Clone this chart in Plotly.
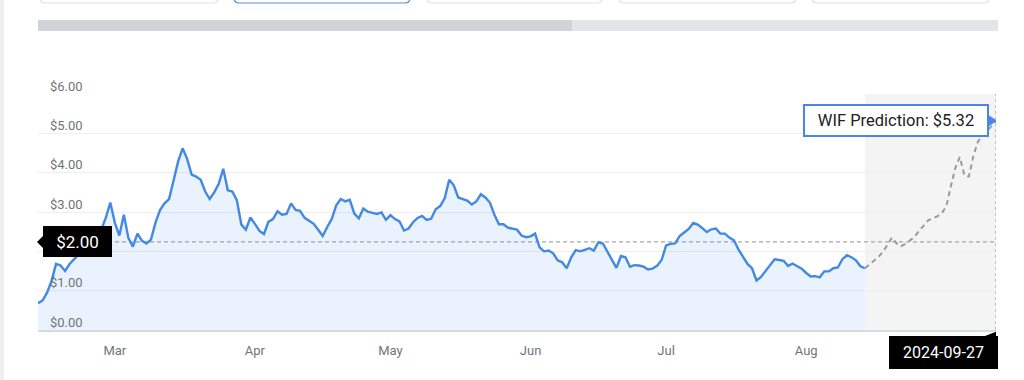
import plotly.graph_objects as go
import pandas as pd

# ---------------- data ----------------
start_date = "2024-02-28"
hist_values = [
    0.68, 0.75, 0.95, 1.25, 1.68, 1.64, 1.50, 1.68, 1.80, 1.92,
    2.02, 2.15, 2.26, 2.40, 2.55, 2.85, 3.24, 2.73, 2.40, 2.93,
    2.34, 2.12, 2.45, 2.27, 2.20, 2.30, 2.73, 3.05, 3.22, 3.33,
    3.80, 4.28, 4.62, 4.35, 3.95, 3.90, 3.82, 3.52, 3.33, 3.50,
    3.72, 4.10, 3.55, 3.52, 3.30, 2.68, 2.55, 2.86, 2.70, 2.52,
    2.44, 2.75, 2.82, 3.02, 2.93, 2.95, 3.22, 3.05, 3.03, 2.85,
    2.78, 2.70, 2.55, 2.39, 2.62, 2.82, 3.17, 3.33, 3.27, 3.31,
    2.96, 2.84, 3.09, 3.01, 2.98, 2.95, 2.99, 2.80, 2.92, 2.82,
    2.76, 2.53, 2.58, 2.74, 2.85, 2.90, 2.80, 2.83, 3.07, 3.15,
    3.35, 3.82, 3.68, 3.37, 3.33, 3.29, 3.19, 3.27, 3.45, 3.37,
    3.24, 2.93, 2.69, 2.69, 2.60, 2.58, 2.55, 2.40, 2.36, 2.38,
    2.45, 2.10, 2.00, 2.02, 1.95, 1.77, 1.72, 1.57, 1.85, 2.03,
    2.00, 2.04, 2.08, 2.02, 2.23, 2.20, 2.00, 1.77, 1.58, 1.88,
    1.85, 1.61, 1.65, 1.64, 1.61, 1.54, 1.56, 1.63, 1.78, 2.15,
    2.19, 2.20, 2.39, 2.48, 2.57, 2.72, 2.68, 2.59, 2.49, 2.56,
    2.58, 2.45, 2.45, 2.35, 2.28, 2.05, 1.87, 1.68, 1.57, 1.26,
    1.35, 1.50, 1.64, 1.80, 1.78, 1.76, 1.63, 1.69, 1.62, 1.56,
    1.45, 1.36, 1.37, 1.34, 1.49, 1.49, 1.57, 1.59, 1.80, 1.90,
    1.85, 1.77, 1.62, 1.57,
]
pred_values = [
    1.57, 1.66, 1.76, 1.86, 1.99, 2.18, 2.35, 2.20, 2.13, 2.19,
    2.27, 2.37, 2.52, 2.67, 2.79, 2.84, 2.89, 2.97, 3.14, 3.65,
    4.12, 4.40, 3.93, 3.90, 4.43, 4.79, 4.92, 5.05, 5.18, 5.32,
]
current_price = 2.24
current_label = "$2.00"
pred_label = "WIF Prediction: $5.32"
pred_date_label = "2024-09-27"
month_ticks = ["2024-03-16", "2024-04-16", "2024-05-16", "2024-06-16", "2024-07-16", "2024-08-16"]
month_labels = ["Mar", "Apr", "May", "Jun", "Jul", "Aug"]
y_ticks = [0, 1, 2, 3, 4, 5, 6]
# the $2.00 axis label is hidden behind the black current-price badge
y_tick_labels = ["$0.00", "$1.00", "", "$3.00", "$4.00", "$5.00", "$6.00"]

hist_dates = pd.date_range(start_date, periods=len(hist_values), freq="D")
pred_dates = pd.date_range(hist_dates[-1], periods=len(pred_values), freq="D")

# ---------------- layout helpers ----------------
W, H = 1024, 380
L, R, T, B = 38, 28, 94, 50
PW, PH = W - L - R, H - T - B


def pxx(x):
    return (x - L) / PW


def pxy(y):
    return (H - B - y) / PH


FONT = "Roboto, Arial, sans-serif"
BLUE = "#4389e3"

fig = go.Figure()

fig.add_trace(go.Scatter(
    x=hist_dates, y=hist_values, mode="lines",
    line=dict(color=BLUE, width=2.4),
    fill="tozeroy", fillcolor="rgba(66,133,244,0.11)",
    hoverinfo="skip", showlegend=False,
))
fig.add_trace(go.Scatter(
    x=pred_dates, y=pred_values, mode="lines",
    line=dict(color="#9a9a9a", width=2, dash="5px,4px"),
    hoverinfo="skip", showlegend=False,
))

shapes = []
# page left strip
shapes.append(dict(type="rect", xref="paper", yref="paper",
                   x0=pxx(0), x1=pxx(4), y0=pxy(H), y1=pxy(0),
                   fillcolor="#f0f0f0", line=dict(width=0), layer="below"))
# scrollbar
shapes.append(dict(type="rect", xref="paper", yref="paper",
                   x0=pxx(38), x1=pxx(998), y0=pxy(31), y1=pxy(20),
                   fillcolor="#e3e4e9", line=dict(width=0), layer="below"))
shapes.append(dict(type="rect", xref="paper", yref="paper",
                   x0=pxx(38), x1=pxx(572), y0=pxy(31), y1=pxy(20),
                   fillcolor="#d2d3d8", line=dict(width=0), layer="below"))
# tabs (only bottom edges visible)
tabs = [(40, 218), (234, 410), (427, 602), (619, 796), (812, 989)]
for i, (a, b) in enumerate(tabs):
    r = 5
    top, bot = -10, 3
    path = (f"M {pxx(a)},{pxy(top)} L {pxx(a)},{pxy(bot - r)} "
            f"Q {pxx(a)},{pxy(bot)} {pxx(a + r)},{pxy(bot)} "
            f"L {pxx(b - r)},{pxy(bot)} Q {pxx(b)},{pxy(bot)} {pxx(b)},{pxy(bot - r)} "
            f"L {pxx(b)},{pxy(top)}")
    shapes.append(dict(type="path", xref="paper", yref="paper", path=path,
                       line=dict(color="#5b8dd6" if i == 1 else "#e2e2e2", width=1.2),
                       layer="below"))
# prediction region
shapes.append(dict(type="rect", xref="x", yref="paper",
                   x0=pred_dates[0], x1=pred_dates[-1], y0=0, y1=1,
                   fillcolor="#f4f4f4", line=dict(width=0), layer="below"))
# current price line
shapes.append(dict(type="line", xref="paper", yref="y", x0=0, x1=1,
                   y0=current_price, y1=current_price,
                   line=dict(color="#a8a8a8", width=1.3, dash="4px,3px"), layer="between"))
# vertical dashed line at prediction end
shapes.append(dict(type="line", xref="x", yref="paper",
                   x0=pred_dates[-1], x1=pred_dates[-1], y0=0, y1=1,
                   line=dict(color="#b0b0b0", width=1.5, dash="3px,3px"), layer="above"))
# pointer of the current price label
shapes.append(dict(type="path", xref="paper", yref="y", xsizemode="pixel", ysizemode="pixel",
                   xanchor=0, yanchor=current_price,
                   path="M -1,0 L 5,6 L 5,-6 Z", fillcolor="black", line=dict(width=0)))
# pointer of prediction label
shapes.append(dict(type="path", xref="x", yref="y", xsizemode="pixel", ysizemode="pixel",
                   xanchor=pred_dates[-1], yanchor=pred_values[-1],
                   path="M -8,-6 L 1,0 L -8,6 Z", fillcolor="#4a86e8", line=dict(width=0)))
# pointer of date label
shapes.append(dict(type="path", xref="x", yref="paper", xsizemode="pixel", ysizemode="pixel",
                   xanchor=pred_dates[-1], yanchor=0,
                   path="M -11,-6 L 2,-6 L 2,-1 Z", fillcolor="black", line=dict(width=0)))

annotations = [
    dict(xref="paper", yref="y", x=0, y=current_price, xanchor="left", yanchor="middle",
         xshift=5, text=current_label, showarrow=False,
         font=dict(family=FONT, size=17, color="white"),
         bgcolor="black", borderpad=0, borderwidth=0, width=69, height=31),
    dict(xref="x", yref="y", x=pred_dates[-1], y=pred_values[-1], xanchor="right",
         yanchor="middle", xshift=-7, text=pred_label, showarrow=False,
         font=dict(family=FONT, size=16.5, color="#202124"),
         bgcolor="white", bordercolor="#4a86e8", borderwidth=2, borderpad=0,
         width=182, height=29),
    dict(xref="x", yref="paper", x=pred_dates[-1], y=0, xanchor="right", yanchor="top",
         xshift=2, yshift=-6, text=pred_date_label, showarrow=False,
         font=dict(family=FONT, size=16, color="white"),
         bgcolor="black", borderpad=0, borderwidth=0, width=109, height=33),
]

fig.update_layout(
    width=W, height=H, autosize=False,
    margin=dict(l=L, r=R, t=T, b=B, pad=0),
    paper_bgcolor="white", plot_bgcolor="white",
    shapes=shapes, annotations=annotations,
    showlegend=False,
    font=dict(family=FONT),
    xaxis=dict(
        type="date", range=[hist_dates[0], pred_dates[-1]],
        tickmode="array", tickvals=month_ticks, ticktext=month_labels,
        showgrid=False, zeroline=False, ticks="",
        showline=True, linecolor="#d6dbe3", linewidth=1.5,
        tickfont=dict(family=FONT, size=13, color="#70757a"),
        ticklabelstandoff=8,
    ),
    yaxis=dict(
        range=[0, 6], tickmode="array", tickvals=y_ticks, ticktext=y_tick_labels,
        showgrid=True, gridcolor="#eeeeee", gridwidth=1, zeroline=False,
        ticks="", showline=False,
        ticklabelposition="inside", ticklabelshift=-8, ticklabelstandoff=9,
        ticklabeloverflow="allow",
        tickfont=dict(family=FONT, size=13, color="#70757a"),
    ),
)

fig.write_html(
    "out.html",
    config={"displayModeBar": False, "staticPlot": True},
    post_script="document.body.style.margin='0';document.body.style.overflow='hidden';",
)
